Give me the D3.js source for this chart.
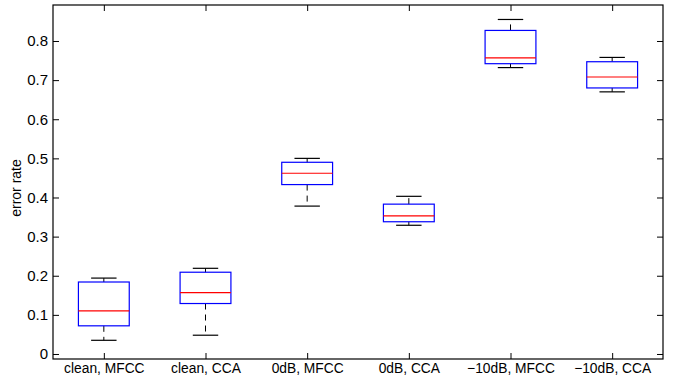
<!DOCTYPE html>
<html>
<head>
<meta charset="utf-8">
<script src="https://cdn.jsdelivr.net/npm/d3@7"></script>
<style>
  html, body { margin: 0; padding: 0; background: #fff; }
  text { font-family: "Liberation Sans Narrow", "Liberation Sans", Arial, sans-serif; }
</style>
</head>
<body>
<svg id="chart" width="680" height="379"></svg>
<script>
const categories = ["clean, MFCC", "clean, CCA", "0dB, MFCC", "0dB, CCA", "\u221210dB, MFCC", "\u221210dB, CCA"];
const whiskerHigh = [0.194, 0.219, 0.500, 0.403, 0.855, 0.758];
const q3Values    = [0.184, 0.209, 0.490, 0.383, 0.827, 0.747];
const medians     = [0.110, 0.157, 0.462, 0.353, 0.757, 0.708];
const q1Values    = [0.072, 0.129, 0.433, 0.338, 0.742, 0.680];
const whiskerLow  = [0.035, 0.048, 0.378, 0.329, 0.732, 0.670];
const yTicks = [0, 0.1, 0.2, 0.3, 0.4, 0.5, 0.6, 0.7, 0.8];
const yLabel = "error rate";

const svg = d3.select("#chart");
const pL = 53, pR = 663, pT = 5, pB = 359;

const x = d3.scaleLinear().domain([0.5, categories.length + 0.5]).range([pL, pR]);
const y = d3.scaleLinear().domain([-0.0128, 0.892]).range([pB, pT]);

const data = categories.map((c, i) => ({
  c, i: i + 1, hi: whiskerHigh[i], q3: q3Values[i], med: medians[i], q1: q1Values[i], lo: whiskerLow[i]
}));

const boxHalf = 0.25, capHalf = 0.125;
const g = svg.append("g");

// whiskers (dashed)
g.selectAll(".wUp").data(data).enter().append("line")
  .attr("x1", d => x(d.i)).attr("x2", d => x(d.i))
  .attr("y1", d => y(d.q3)).attr("y2", d => y(d.hi))
  .attr("stroke", "#000").attr("stroke-dasharray", "6,5");
g.selectAll(".wDn").data(data).enter().append("line")
  .attr("x1", d => x(d.i)).attr("x2", d => x(d.i))
  .attr("y1", d => y(d.q1)).attr("y2", d => y(d.lo))
  .attr("stroke", "#000").attr("stroke-dasharray", "6,5");
// caps
["hi", "lo"].forEach(k => {
  g.selectAll(".cap" + k).data(data).enter().append("line")
    .attr("x1", d => x(d.i - capHalf)).attr("x2", d => x(d.i + capHalf))
    .attr("y1", d => y(d[k])).attr("y2", d => y(d[k]))
    .attr("stroke", "#000").attr("stroke-width", 1.2);
});
// boxes
g.selectAll(".box").data(data).enter().append("rect")
  .attr("x", d => x(d.i - boxHalf)).attr("width", d => x(d.i + boxHalf) - x(d.i - boxHalf))
  .attr("y", d => y(d.q3)).attr("height", d => y(d.q1) - y(d.q3))
  .attr("fill", "none").attr("stroke", "#0000ff").attr("stroke-width", 1.2);
// medians
g.selectAll(".med").data(data).enter().append("line")
  .attr("x1", d => x(d.i - boxHalf)).attr("x2", d => x(d.i + boxHalf))
  .attr("y1", d => y(d.med)).attr("y2", d => y(d.med))
  .attr("stroke", "#ff0000").attr("stroke-width", 1.2);

// axes
const tickLen = 6;
const xb = d3.axisBottom(x).tickValues(categories.map((c, i) => i + 1))
  .tickFormat((d) => categories[d - 1]).tickSizeInner(-tickLen).tickSizeOuter(0).tickPadding(4);
const xt = d3.axisTop(x).tickValues(categories.map((c, i) => i + 1))
  .tickFormat("").tickSizeInner(-tickLen).tickSizeOuter(0);
const yl = d3.axisLeft(y).tickValues(yTicks).tickFormat(d => d === 0 ? "0" : d3.format(".1f")(d))
  .tickSizeInner(-tickLen).tickSizeOuter(0).tickPadding(5);
const yr = d3.axisRight(y).tickValues(yTicks).tickFormat("").tickSizeInner(-tickLen).tickSizeOuter(0);

function style(sel, size) {
  sel.select(".domain").remove();
  sel.selectAll(".tick line").attr("stroke", "#000");
  sel.selectAll("text").attr("fill", "#000").style("font-size", size + "px");
}
svg.append("g").attr("transform", `translate(0,${pB})`).call(xb).call(style, 13.8);
svg.append("g").attr("transform", `translate(0,${pT})`).call(xt).call(style, 13.8);
svg.append("g").attr("transform", `translate(${pL},0)`).call(yl).call(style, 15);
svg.append("g").attr("transform", `translate(${pR},0)`).call(yr).call(style, 15);

svg.append("rect").attr("x", pL).attr("y", pT).attr("width", pR - pL).attr("height", pB - pT)
  .attr("fill", "none").attr("stroke", "#000").attr("stroke-width", 1.2);

svg.append("text").attr("transform", `translate(21,${(pT + pB) / 2 + 6}) rotate(-90)`)
  .attr("text-anchor", "middle").style("font-size", "14px").attr("fill", "#000").text(yLabel);
</script>
</body>
</html>
